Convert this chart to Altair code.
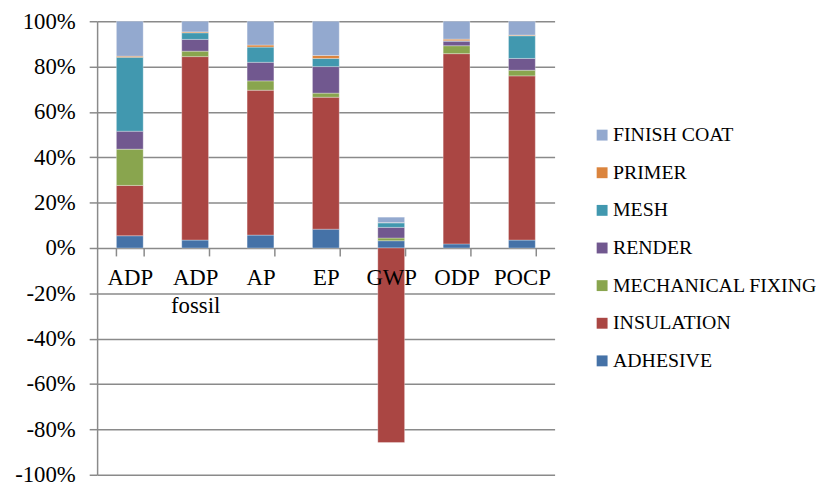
import altair as alt
import pandas as pd

categories = ["ADP", "ADP fossil", "AP", "EP", "GWP", "ODP", "POCP"]

adhesive   = [5.4, 3.5, 5.7, 8.3, 3.2, 1.8, 3.5]
insulation = [22.2, 80.9, 63.9, 58.2, -85.8, 83.9, 72.4]
mech_fix   = [16.0, 2.4, 4.1, 1.8, 1.2, 3.5, 2.5]
render     = [7.9, 5.2, 8.2, 11.7, 4.7, 2.0, 5.2]
mesh       = [32.6, 2.9, 6.7, 3.6, 2.0, 0.2, 10.0]
primer     = [0.5, 0.4, 0.9, 1.3, 0.1, 0.7, 0.3]
finish     = [15.4, 4.7, 10.5, 15.1, 2.4, 7.9, 6.1]

# stacking order bottom -> top
components = ["ADHESIVE", "INSULATION", "MECHANICAL FIXING", "RENDER", "MESH", "PRIMER", "FINISH COAT"]
series = [adhesive, insulation, mech_fix, render, mesh, primer, finish]
colors_by_comp = ["#4572A7", "#AA4643", "#89A54E", "#71588F", "#4198AF", "#DB843D", "#93A9CF"]

rows = []
for idx, (comp, vals) in enumerate(zip(components, series)):
    for cat, v in zip(categories, vals):
        rows.append({"category": cat, "component": comp, "value": v, "idx": idx})
df = pd.DataFrame(rows)

legend_order = components[::-1]
legend_colors = colors_by_comp[::-1]

FONT = "Liberation Serif, Times New Roman, serif"
GRID = "#8a8a8a"

chart = alt.Chart(df).mark_bar(stroke="white", strokeWidth=0.6, strokeOpacity=0.5).encode(
    x=alt.X(
        "category:N",
        sort=categories,
        scale=alt.Scale(paddingInner=0.59, paddingOuter=0.295),
        axis=alt.Axis(
            title=None,
            offset=-229,
            domain=False,
            grid=False,
            ticks=True,
            tickBand="extent",
            tickSize=8,
            tickColor=GRID,
            tickWidth=1.5,
            labelAngle=0,
            labelFont=FONT,
            labelFontSize=23,
            labelColor="black",
            labelPadding=11,
            labelBaseline="top",
            labelLineHeight=28,
            labelExpr="split(datum.label, ' ')",
            labelOverlap=False,
            labelFlush=False,
            zindex=1,
        ),
    ),
    y=alt.Y(
        "value:Q",
        stack="zero",
        scale=alt.Scale(domain=[-100, 100], nice=False),
        axis=alt.Axis(
            title=None,
            values=list(range(-100, 101, 20)),
            labelExpr="datum.value + '%'",
            labelFont=FONT,
            labelFontSize=23,
            labelColor="black",
            labelPadding=14,
            tickSize=8,
            tickColor=GRID,
            tickWidth=1.5,
            domainColor=GRID,
            domainWidth=1.5,
            gridColor=GRID,
            gridWidth=1.5,
        ),
    ),
    color=alt.Color(
        "component:N",
        scale=alt.Scale(domain=legend_order, range=legend_colors),
        legend=alt.Legend(
            title=None,
            orient="none",
            legendX=500,
            legendY=105,
            symbolType="square",
            symbolSize=121,
            symbolStrokeWidth=0,
            labelFont=FONT,
            labelFontSize=20,
            labelColor="black",
            labelOffset=1,
            rowPadding=18,
            labelLimit=400,
        ),
    ),
    order=alt.Order("idx:Q", sort="ascending"),
).properties(
    width=462,
    height=458,
    autosize=alt.AutoSizeParams(type="none"),
    padding={"left": 90, "top": 11, "right": 264, "bottom": 10},
).configure(
    font=FONT
).configure_view(
    stroke="transparent"
).configure_axis(
    labelFont=FONT
).configure_legend(
    labelFont=FONT
)

chart.save("out.html", embed_options={"renderer": "svg", "actions": False})
